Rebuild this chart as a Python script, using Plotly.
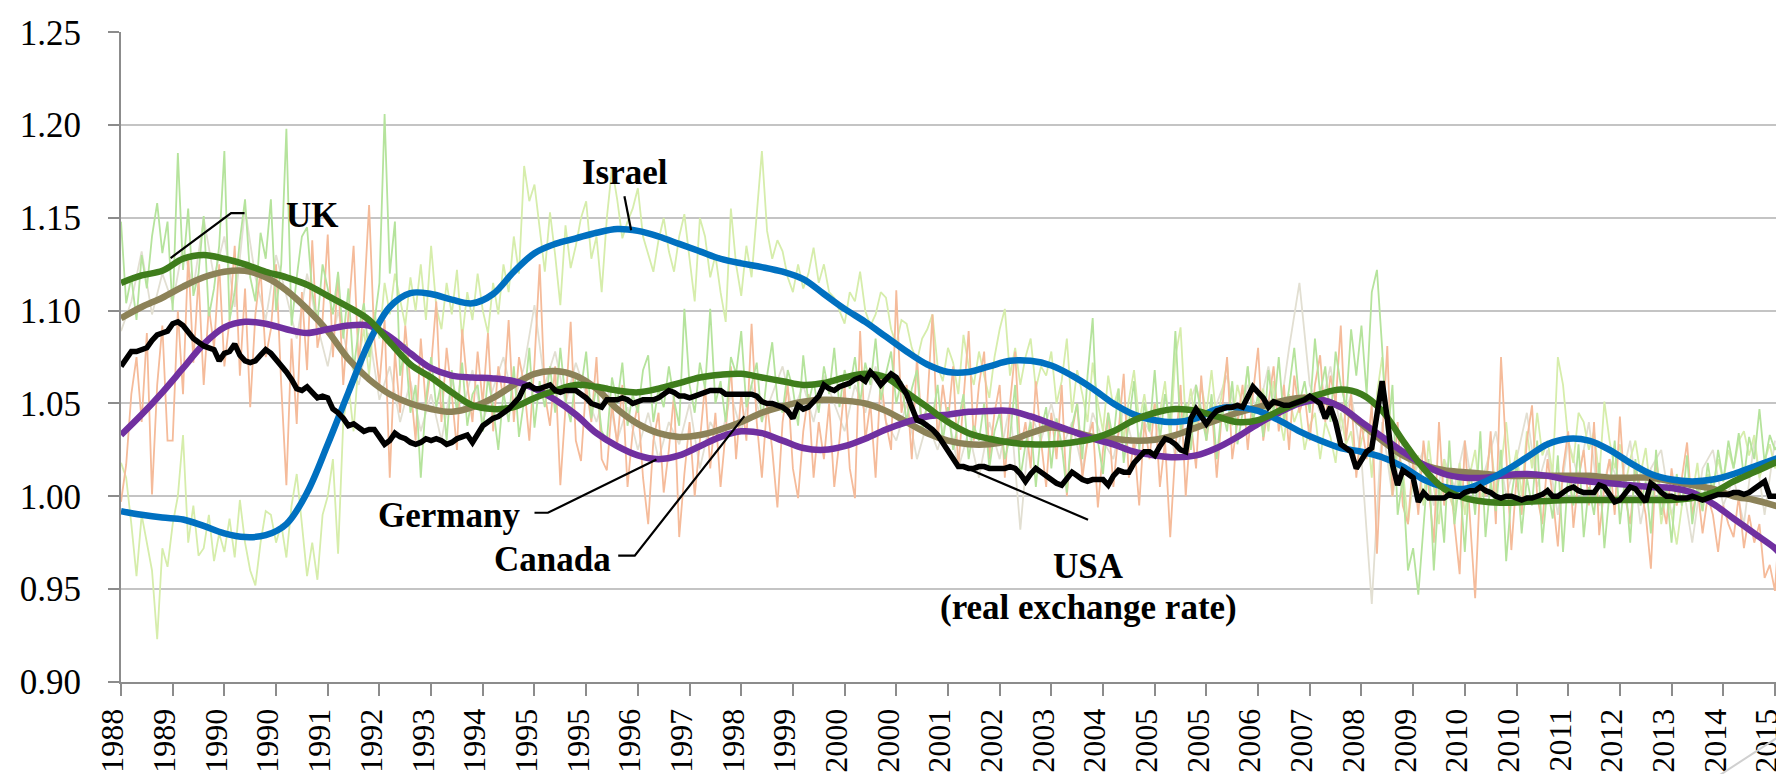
import plotly.graph_objects as go

# ---------------- DATA ----------------
# x axis: monthly index (0 = May 1988); a label every 10 months
tick_idx = list(range(0, 321, 10))
year_labels = ["1988", "1989", "1990", "1990", "1991", "1992", "1993", "1994", "1995", "1995",
               "1996", "1997", "1998", "1999", "2000", "2000", "2001", "2002", "2003", "2004",
               "2005", "2005", "2006", "2007", "2008", "2009", "2010", "2010", "2011", "2012",
               "2013", "2014", "2015"]

# smoothed trends, read every 4 months (last point = month 321)
trend_months = list(range(0, 321, 4)) + [321]

israel_trend = [0.992, 0.990, 0.9885, 0.9875, 0.984, 0.980, 0.978, 0.979, 0.985, 1.002,
                1.028, 1.056, 1.083, 1.102, 1.1095, 1.109, 1.106, 1.104, 1.109, 1.121,
                1.131, 1.136, 1.139, 1.142, 1.144, 1.143, 1.140, 1.136, 1.132, 1.128,
                1.1255, 1.1235, 1.121, 1.117, 1.109, 1.101, 1.094, 1.086, 1.078, 1.071,
                1.067, 1.067, 1.070, 1.073, 1.073, 1.0705, 1.065, 1.058, 1.050, 1.044,
                1.041, 1.040, 1.042, 1.047, 1.048, 1.046, 1.041, 1.035, 1.030, 1.026,
                1.024, 1.021, 1.016, 1.009, 1.005, 1.004, 1.008, 1.014, 1.021, 1.028,
                1.031, 1.030, 1.025, 1.018, 1.012, 1.009, 1.008, 1.009, 1.012, 1.016,
                1.020, 1.021]

uk_trend = [1.115, 1.119, 1.1215, 1.128, 1.130, 1.128, 1.125, 1.121, 1.118, 1.114,
            1.108, 1.102, 1.095, 1.083, 1.071, 1.064, 1.056, 1.049, 1.047, 1.048,
            1.053, 1.057, 1.060, 1.059, 1.057, 1.056, 1.058, 1.061, 1.064, 1.0655,
            1.066, 1.064, 1.062, 1.060, 1.061, 1.064, 1.066, 1.064, 1.056, 1.048,
            1.040, 1.034, 1.031, 1.029, 1.028, 1.028, 1.029, 1.031, 1.035, 1.041,
            1.045, 1.047, 1.046, 1.043, 1.040, 1.041, 1.046, 1.051, 1.055, 1.0575,
            1.055, 1.046, 1.030, 1.015, 1.004, 0.999, 0.997, 0.9965, 0.997, 0.9975,
            0.998, 0.998, 0.998, 0.998, 0.998, 0.998, 0.999, 1.002, 1.008, 1.013,
            1.018, 1.019]

canada_trend = [1.096, 1.102, 1.107, 1.113, 1.118, 1.121, 1.1215, 1.118, 1.111, 1.101,
                1.089, 1.074, 1.063, 1.055, 1.050, 1.047, 1.0455, 1.048, 1.053, 1.060,
                1.066, 1.0675, 1.065, 1.058, 1.047, 1.039, 1.034, 1.032, 1.033, 1.036,
                1.040, 1.045, 1.0485, 1.051, 1.052, 1.0515, 1.050, 1.046, 1.040, 1.034,
                1.030, 1.028, 1.028, 1.030, 1.034, 1.037, 1.035, 1.032, 1.031, 1.030,
                1.0305, 1.033, 1.037, 1.041, 1.045, 1.048, 1.051, 1.053, 1.052, 1.048,
                1.039, 1.030, 1.022, 1.017, 1.014, 1.013, 1.012, 1.011, 1.011, 1.011,
                1.011, 1.011, 1.010, 1.010, 1.010, 1.008, 1.006, 1.004, 1.000, 0.998,
                0.995, 0.994]

germany_trend = [1.033, 1.044, 1.056, 1.069, 1.082, 1.091, 1.094, 1.093, 1.090, 1.088,
                 1.090, 1.092, 1.092, 1.086, 1.077, 1.069, 1.065, 1.064, 1.0635, 1.062,
                 1.058, 1.052, 1.044, 1.034, 1.027, 1.022, 1.020, 1.022, 1.027, 1.032,
                 1.035, 1.034, 1.030, 1.026, 1.025, 1.027, 1.031, 1.036, 1.040, 1.043,
                 1.044, 1.0455, 1.046, 1.046, 1.043, 1.039, 1.035, 1.031, 1.028, 1.024,
                 1.022, 1.021, 1.022, 1.026, 1.032, 1.039, 1.045, 1.050, 1.052, 1.048,
                 1.040, 1.032, 1.024, 1.017, 1.012, 1.010, 1.010, 1.0115, 1.012, 1.011,
                 1.009, 1.008, 1.007, 1.006, 1.005, 1.0045, 1.002, 0.996, 0.988, 0.980,
                 0.972, 0.969]

# USA real exchange rate, monthly (months 0..321)
usa_rer = [1.070, 1.074, 1.078, 1.078, 1.079, 1.080, 1.084, 1.087, 1.088, 1.089,
           1.093, 1.094, 1.092, 1.088, 1.085, 1.083, 1.081, 1.080, 1.079, 1.073,
           1.077, 1.078, 1.082, 1.076, 1.073, 1.072, 1.073, 1.076, 1.079, 1.077,
           1.074, 1.070, 1.067, 1.063, 1.058, 1.057, 1.059, 1.056, 1.053, 1.054,
           1.053, 1.047, 1.045, 1.042, 1.038, 1.039, 1.037, 1.035, 1.036, 1.036,
           1.032, 1.028, 1.030, 1.034, 1.032, 1.031, 1.029, 1.028, 1.029, 1.031,
           1.030, 1.031, 1.030, 1.028, 1.029, 1.031, 1.032, 1.033, 1.029, 1.033,
           1.038, 1.040, 1.042, 1.043, 1.045, 1.047, 1.050, 1.053, 1.059, 1.060,
           1.058, 1.058, 1.059, 1.060, 1.057, 1.056, 1.057, 1.057, 1.057, 1.055,
           1.053, 1.050, 1.049, 1.048, 1.052, 1.052, 1.052, 1.053, 1.052, 1.050,
           1.051, 1.052, 1.052, 1.052, 1.053, 1.055, 1.057, 1.056, 1.054, 1.054,
           1.053, 1.054, 1.055, 1.056, 1.057, 1.057, 1.057, 1.055, 1.055, 1.055,
           1.055, 1.055, 1.055, 1.054, 1.051, 1.050, 1.050, 1.049, 1.048, 1.046,
           1.042, 1.049, 1.047, 1.048, 1.051, 1.054, 1.060, 1.058, 1.057, 1.059,
           1.060, 1.061, 1.063, 1.064, 1.062, 1.067, 1.064, 1.060, 1.063, 1.066,
           1.064, 1.060, 1.055, 1.048, 1.041, 1.040, 1.038, 1.036, 1.033, 1.029,
           1.024, 1.020, 1.016, 1.016, 1.015, 1.015, 1.016, 1.016, 1.015, 1.015,
           1.015, 1.015, 1.016, 1.015, 1.012, 1.008, 1.012, 1.015, 1.013, 1.011,
           1.009, 1.007, 1.006, 1.010, 1.013, 1.011, 1.009, 1.008, 1.009, 1.009,
           1.009, 1.006, 1.011, 1.014, 1.013, 1.013, 1.018, 1.021, 1.024, 1.024,
           1.022, 1.027, 1.031, 1.030, 1.028, 1.025, 1.024, 1.042, 1.047, 1.043,
           1.039, 1.043, 1.046, 1.047, 1.048, 1.048, 1.049, 1.048, 1.053, 1.059,
           1.056, 1.053, 1.048, 1.051, 1.050, 1.049, 1.049, 1.050, 1.051, 1.052,
           1.054, 1.052, 1.050, 1.042, 1.048, 1.040, 1.028, 1.026, 1.024, 1.015,
           1.020, 1.024, 1.026, 1.042, 1.062, 1.042, 1.017, 1.006, 1.014, 1.012,
           1.010, 0.997, 1.002, 0.999, 0.999, 0.999, 0.999, 1.001, 1.000, 1.000,
           1.002, 1.003, 1.003, 1.005, 1.003, 1.002, 1.000, 0.999, 1.000, 1.000,
           0.999, 0.998, 0.999, 0.999, 1.000, 1.001, 1.003, 1.000, 1.000, 1.002,
           1.004, 1.005, 1.003, 1.002, 1.002, 1.002, 1.006, 1.005, 1.001, 0.997,
           0.998, 1.002, 1.005, 1.004, 1.001, 0.997, 1.007, 1.005, 1.002, 1.000,
           1.000, 0.999, 0.999, 0.999, 1.000, 0.999, 0.998, 0.999, 1.000, 1.001,
           1.001, 1.001, 1.002, 1.002, 1.001, 1.002, 1.004, 1.006, 1.008, 1.000,
           1.000, 1.000]

# thin monthly series (months 0..321)
uk_raw = [1.148, 1.104, 1.118, 1.095, 1.130, 1.112, 1.140, 1.158, 1.131, 1.148,
          1.100, 1.185, 1.122, 1.155, 1.108, 1.120, 1.151, 1.097, 1.112, 1.135,
          1.186, 1.095, 1.110, 1.138, 1.160, 1.118, 1.105, 1.142, 1.128, 1.160,
          1.100, 1.125, 1.198, 1.092, 1.118, 1.140, 1.145, 1.110, 1.094, 1.125,
          1.112, 1.098, 1.121, 1.085, 1.112, 1.068, 1.090, 1.104, 1.075, 1.093,
          1.115, 1.206, 1.120, 1.148, 1.065, 1.082, 1.045, 1.060, 1.010, 1.052,
          1.075, 1.048, 1.062, 1.030, 1.068, 1.045, 1.072, 1.038, 1.055, 1.060,
          1.035, 1.064, 1.048, 1.025, 1.056, 1.040, 1.070, 1.032, 1.052, 1.080,
          1.037, 1.062, 1.048, 1.070, 1.045, 1.080, 1.052, 1.040, 1.066, 1.058,
          1.078, 1.042, 1.060, 1.035, 1.030, 1.064, 1.050, 1.072, 1.038, 1.055,
          1.045, 1.068, 1.076, 1.040, 1.058, 1.048, 1.070, 1.052, 1.038, 1.101,
          1.060, 1.045, 1.072, 1.058, 1.101, 1.050, 1.062, 1.040, 1.075, 1.066,
          1.089, 1.048, 1.060, 1.072, 1.040, 1.065, 1.083, 1.052, 1.045, 1.068,
          1.058, 1.038, 1.076, 1.050, 1.062, 1.045, 1.070, 1.055, 1.080, 1.048,
          1.068, 1.058, 1.075, 1.050, 1.072, 1.060, 1.085, 1.052, 1.066, 1.078,
          1.050, 1.062, 1.040, 1.058, 1.068, 1.035, 1.050, 1.042, 1.060, 1.030,
          1.048, 1.025, 1.040, 1.055, 1.020, 1.038, 1.030, 1.050, 1.015, 1.035,
          1.045, 1.020, 1.032, 1.060, 1.010, 1.028, 1.040, 1.005, 1.035, 1.048,
          1.015, 1.042, 1.028, 1.002, 1.038, 1.050, 1.020, 1.065, 1.096, 1.030,
          1.012, 1.045, 1.030, 1.058, 1.018, 1.040, 1.062, 1.025, 1.050, 1.035,
          1.068, 1.030, 1.055, 1.040, 1.089, 1.035, 1.050, 1.025, 1.060, 1.045,
          1.030, 1.055, 1.020, 1.048, 1.035, 1.062, 1.028, 1.045, 1.070, 1.040,
          1.055, 1.032, 1.068, 1.045, 1.075, 1.040, 1.058, 1.080, 1.050, 1.062,
          1.045, 1.085, 1.055, 1.070, 1.040, 1.078, 1.060, 1.048, 1.090, 1.065,
          1.092, 1.055, 1.110, 1.122, 1.080, 1.030, 1.060, 0.990, 1.010, 0.960,
          0.972, 0.947, 0.985, 1.020, 0.960, 1.005, 0.975, 1.030, 0.985, 1.010,
          0.970, 1.015, 0.990, 1.035, 0.978, 1.008, 0.992, 1.025, 0.965, 1.000,
          1.018, 0.980, 1.010, 0.995, 1.030, 0.975, 1.005, 0.988, 1.022, 0.970,
          1.012, 0.995, 1.028, 0.978, 1.005, 0.990, 1.018, 0.972, 1.002, 1.030,
          0.985, 1.010, 0.975, 1.020, 0.995, 1.008, 0.980, 1.025, 0.990, 1.004,
          0.975, 1.012, 0.995, 1.022, 0.985, 1.006, 0.992, 1.018, 1.000, 1.025,
          1.008, 1.030, 1.015, 1.034, 1.010, 1.032, 1.020, 1.047, 1.018, 1.033,
          1.025, 1.030]

israel_raw = [1.018, 1.010, 0.985, 0.957, 0.990, 0.976, 0.960, 0.923, 0.972, 0.962,
              0.985, 1.000, 1.033, 0.975, 0.995, 0.968, 0.972, 0.990, 0.965, 0.980,
              0.970, 0.988, 0.967, 0.998, 0.975, 0.960, 0.952, 0.975, 0.992, 0.990,
              0.975, 0.985, 0.967, 0.995, 1.012, 0.985, 0.957, 0.975, 0.955, 0.990,
              1.000, 1.020, 0.969, 1.040, 1.060, 1.035, 1.075, 1.090, 1.065, 1.100,
              1.085, 1.115, 1.098, 1.120, 1.105, 1.092, 1.118, 1.100, 1.125, 1.095,
              1.135, 1.102, 1.090, 1.115, 1.098, 1.122, 1.085, 1.110, 1.095, 1.120,
              1.100, 1.088, 1.115, 1.098, 1.125, 1.110, 1.140, 1.120, 1.178, 1.159,
              1.168, 1.145, 1.121, 1.153, 1.130, 1.103, 1.146, 1.123, 1.135, 1.150,
              1.159, 1.128, 1.140, 1.110, 1.150, 1.177, 1.160, 1.139, 1.148, 1.155,
              1.166, 1.140, 1.130, 1.121, 1.138, 1.150, 1.132, 1.121, 1.140, 1.152,
              1.128, 1.105, 1.150, 1.140, 1.118, 1.130, 1.110, 1.094, 1.155, 1.125,
              1.108, 1.135, 1.118, 1.150, 1.186, 1.143, 1.128, 1.138, 1.132, 1.118,
              1.110, 1.125, 1.112, 1.120, 1.134, 1.115, 1.125, 1.110, 1.107, 1.100,
              1.093, 1.110, 1.105, 1.121, 1.100, 1.092, 1.098, 1.110, 1.107, 1.090,
              1.082, 1.095, 1.093, 1.080, 1.073, 1.085, 1.090, 1.098, 1.070, 1.062,
              1.080, 1.072, 1.055, 1.087, 1.070, 1.060, 1.078, 1.065, 1.053, 1.075,
              1.090, 1.101, 1.065, 1.080, 1.060, 1.075, 1.085, 1.058, 1.070, 1.065,
              1.078, 1.050, 1.062, 1.085, 1.045, 1.068, 1.055, 1.040, 1.072, 1.050,
              1.035, 1.065, 1.048, 1.058, 1.030, 1.052, 1.068, 1.040, 1.055, 1.035,
              1.050, 1.045, 1.062, 1.030, 1.075, 1.091, 1.040, 1.058, 1.035, 1.060,
              1.045, 1.068, 1.040, 1.055, 1.072, 1.038, 1.060, 1.048, 1.070, 1.042,
              1.050, 1.058, 1.035, 1.062, 1.045, 1.030, 1.055, 1.040, 1.048, 1.025,
              1.038, 1.045, 1.020, 1.040, 1.032, 1.018, 1.045, 1.028, 1.035, 1.015,
              1.030, 1.040, 1.010, 1.055, 1.075, 1.035, 1.000, 1.025, 1.015, 0.985,
              1.010, 1.022, 0.995, 1.030, 1.005, 0.985, 1.020, 1.000, 0.992, 1.018,
              0.990, 1.012, 1.025, 0.998, 1.008, 1.030, 1.002, 1.015, 1.040, 1.010,
              1.025, 1.000, 1.035, 1.015, 1.045, 1.022, 1.030, 1.012, 1.075, 1.060,
              1.030, 1.018, 1.045, 1.040, 1.025, 1.035, 1.010, 1.051, 1.030, 1.015,
              1.028, 1.005, 1.020, 1.030, 1.012, 1.026, 1.000, 1.015, 0.985, 1.002,
              0.990, 0.974, 0.995, 1.010, 1.000, 1.018, 0.992, 1.012, 1.005, 1.020,
              1.008, 1.025, 1.015, 1.030, 1.035, 1.022, 1.033, 1.010, 1.019, 1.028,
              1.015, 1.025]

salmon_raw = [0.997, 1.017, 1.055, 1.075, 1.040, 1.088, 1.001, 1.060, 1.092, 1.030,
              1.030, 1.100, 1.055, 1.130, 1.072, 1.118, 1.060, 1.102, 1.080, 1.125,
              1.070, 1.095, 1.135, 1.065, 1.112, 1.048, 1.098, 1.122, 1.075, 1.090,
              1.125, 1.060, 1.006, 1.085, 1.039, 1.110, 1.068, 1.138, 1.080, 1.095,
              1.141, 1.075, 1.120, 1.060, 1.098, 1.135, 1.070, 1.105, 1.157, 1.085,
              1.060, 1.095, 1.010, 1.078, 1.045, 1.092, 1.060, 1.030, 1.085, 1.048,
              1.070, 1.105, 1.040, 1.080, 1.055, 1.025, 1.090, 1.060, 1.040, 1.078,
              1.050, 1.088, 1.035, 1.070, 1.052, 1.095, 1.040, 1.075, 1.060, 1.030,
              1.072, 1.125, 1.055, 1.038, 1.070, 1.006, 1.048, 1.094, 1.030, 1.019,
              1.060, 1.040, 1.075, 1.020, 1.014, 1.050, 1.028, 1.060, 1.005, 1.035,
              1.050, 1.010, 0.985, 1.030, 1.045, 1.002, 1.025, 1.055, 0.978, 1.012,
              1.040, 1.000, 1.030, 1.060, 1.015, 1.045, 1.005, 1.035, 1.070, 1.020,
              1.055, 1.030, 1.093, 1.040, 1.010, 1.050, 1.025, 0.994, 1.040, 1.060,
              1.015, 0.999, 1.035, 1.055, 1.010, 1.040, 1.020, 1.050, 1.005, 1.030,
              1.060, 1.015, 0.999, 1.089, 1.030, 1.050, 1.010, 1.065, 1.040, 1.025,
              1.111, 1.045, 1.060, 1.020, 1.075, 1.035, 1.050, 1.098, 1.030, 1.060,
              1.040, 1.070, 1.015, 1.050, 1.089, 1.030, 1.060, 1.078, 1.020, 1.045,
              1.060, 1.010, 1.050, 1.078, 1.025, 1.040, 1.015, 1.062, 1.030, 1.005,
              1.045, 1.020, 1.060, 1.000, 1.035, 1.050, 1.010, 1.030, 1.040, 0.994,
              1.025, 1.045, 1.005, 1.035, 1.066, 1.010, 1.030, 0.995, 1.040, 1.020,
              1.050, 1.005, 1.030, 0.978, 1.025, 1.060, 1.000, 1.040, 1.015, 1.065,
              1.030, 1.050, 1.010, 1.045, 1.075, 1.020, 1.040, 1.060, 1.025, 1.055,
              1.080, 1.030, 1.050, 1.070, 1.035, 1.060, 1.025, 1.065, 1.045, 1.055,
              1.030, 1.060, 1.076, 1.040, 1.065, 1.050, 1.092, 1.030, 1.055, 1.010,
              1.040, 1.020, 1.050, 0.969, 1.030, 1.081, 1.000, 1.040, 0.995, 0.985,
              1.020, 0.990, 1.030, 1.005, 0.975, 1.040, 0.995, 1.015, 0.985, 0.958,
              1.030, 0.990, 0.945, 1.010, 1.000, 1.035, 0.985, 1.075, 1.020, 0.971,
              1.010, 0.990, 1.030, 1.049, 1.000, 0.985, 1.020, 1.000, 0.973, 1.015,
              1.035, 0.983, 1.010, 1.025, 0.995, 1.040, 0.979, 1.005, 1.020, 0.990,
              1.043, 1.000, 0.985, 1.015, 1.005, 0.990, 0.961, 1.020, 1.000, 0.985,
              1.015, 0.995, 1.010, 1.029, 0.990, 1.005, 0.980, 1.000, 0.990, 0.970,
              0.995, 0.985, 0.978, 1.000, 0.972, 0.990, 0.975, 0.985, 0.956, 0.963,
              0.949, 0.992]

# beige series, read every 2 months (months 0, 2, ..., 320)
beige_months = list(range(0, 321, 2))
beige_raw = [1.089, 1.105, 1.132, 1.098, 1.120, 1.104, 1.135, 1.112, 1.150, 1.118,
             1.140, 1.102, 1.155, 1.118, 1.095, 1.130, 1.108, 1.085, 1.120, 1.092,
             1.070, 1.100, 1.075, 1.060, 1.088, 1.052, 1.070, 1.040, 1.062, 1.035,
             1.055, 1.030, 1.062, 1.045, 1.068, 1.040, 1.058, 1.075, 1.050, 1.070,
             1.103, 1.060, 1.078, 1.050, 1.072, 1.055, 1.040, 1.060, 1.030, 1.048,
             1.025, 1.045, 1.020, 1.040, 1.028, 1.050, 1.015, 1.040, 1.030, 1.055,
             1.035, 1.060, 1.040, 1.055, 1.070, 1.045, 1.060, 1.040, 1.065, 1.050,
             1.035, 1.060, 1.045, 1.070, 1.040, 1.030, 1.050, 1.020, 1.040, 1.025,
             1.045, 1.015, 1.035, 1.010, 1.040, 1.020, 1.050, 0.982, 1.045, 1.030,
             1.050, 1.025, 1.040, 1.015, 1.045, 1.030, 1.020, 1.048, 1.025, 1.040,
             1.030, 1.055, 1.020, 1.045, 1.060, 1.035, 1.050, 1.065, 1.040, 1.060,
             1.045, 1.070, 1.040, 1.080, 1.115, 1.060, 1.045, 1.070, 1.035, 1.055,
             1.020, 0.942, 1.040, 1.000, 1.030, 1.010, 1.025, 0.995, 1.020, 1.005,
             1.030, 0.995, 1.015, 1.035, 1.000, 1.020, 1.045, 1.005, 1.025, 0.990,
             1.030, 1.010, 1.040, 0.995, 1.020, 1.005, 1.030, 0.985, 1.015, 1.025,
             0.990, 1.010, 0.975, 1.015, 1.025, 0.995, 1.010, 0.985, 1.030, 0.990,
             1.030]

# ---------------- STYLE ----------------
FONT = "Liberation Serif"
AXIS_GRAY = "#8c8c8c"
GRID_GRAY = "#c4c4c4"

fig = go.Figure()


def months_for(values):
    return list(range(len(values)))


# thin series
fig.add_trace(go.Scatter(x=beige_months, y=beige_raw, mode="lines",
                         line=dict(color="#e2dfd2", width=1.8), hoverinfo="skip"))
fig.add_trace(go.Scatter(x=months_for(israel_raw), y=israel_raw, mode="lines",
                         line=dict(color="#d6edab", width=1.8), hoverinfo="skip"))
fig.add_trace(go.Scatter(x=months_for(salmon_raw), y=salmon_raw, mode="lines",
                         line=dict(color="#f5bb9a", width=1.8), hoverinfo="skip"))
fig.add_trace(go.Scatter(x=months_for(uk_raw), y=uk_raw, mode="lines",
                         line=dict(color="#b5e39c", width=1.8), hoverinfo="skip"))

# smooth trends
fig.add_trace(go.Scatter(x=trend_months, y=canada_trend, mode="lines", name="Canada",
                         line=dict(color="#8c8258", width=6.5, shape="spline")))
fig.add_trace(go.Scatter(x=trend_months, y=germany_trend, mode="lines", name="Germany",
                         line=dict(color="#7030a0", width=6.5, shape="spline")))
fig.add_trace(go.Scatter(x=trend_months, y=israel_trend, mode="lines", name="Israel",
                         line=dict(color="#0070c0", width=6.5, shape="spline")))
fig.add_trace(go.Scatter(x=trend_months, y=uk_trend, mode="lines", name="UK",
                         line=dict(color="#3f7d1c", width=6.5, shape="spline")))
fig.add_trace(go.Scatter(x=months_for(usa_rer), y=usa_rer, mode="lines", name="USA",
                         line=dict(color="black", width=5.5)))

# labels
ann_font = dict(family=FONT, size=35, color="black")
labels = [
    ("<b>UK</b>", 37.1, 1.1515),
    ("<b>Israel</b>", 97.5, 1.1747),
    ("<b>Germany</b>", 63.4, 0.9895),
    ("<b>Canada</b>", 83.4, 0.9660),
    ("<b>USA</b>", 187.1, 0.9620),
    ("<b>(real exchange rate)</b>", 187.1, 0.9400),
]
for text, lx, ly in labels:
    fig.add_annotation(x=lx, y=ly, xref="x", yref="y", text=text, showarrow=False,
                       font=ann_font, xanchor="center", yanchor="middle")

# leader lines
leaders = [
    "M 9.6,1.1284 L 21.3,1.1526 L 23.9,1.1526",
    "M 97.4,1.1617 L 98.7,1.1434",
    "M 80.0,0.9911 L 82.6,0.9911 L 103.6,1.0198",
    "M 96.2,0.9680 L 99.4,0.9680 L 120.6,1.0432",
    "M 163.9,1.0148 L 187.1,0.9874",
]
for p in leaders:
    fig.add_shape(type="path", path=p, xref="x", yref="y",
                  line=dict(color="black", width=2.2))

# faint corner stroke seen in the original
fig.add_shape(type="line", xref="paper", yref="paper", x0=0.9515, y0=-0.152, x1=1.0, y1=-0.0708,
              line=dict(color="#d0d0d0", width=2))

fig.update_layout(
    width=1784, height=774,
    margin=dict(l=113, r=0, t=24, b=100),
    plot_bgcolor="white", paper_bgcolor="white",
    showlegend=False,
    xaxis=dict(range=[0, 323.3], tickmode="array", tickvals=tick_idx, ticktext=year_labels,
               tickangle=-90, ticks="outside", ticklen=12, tickwidth=2, tickcolor=AXIS_GRAY,
               showline=True, linecolor=AXIS_GRAY, linewidth=2, showgrid=False, zeroline=False,
               ticklabelstandoff=0, ticklabelshift=-8, ticklabeloverflow="allow",
               tickfont=dict(family=FONT, size=32, color="black")),
    yaxis=dict(range=[0.8999, 1.2502], tick0=0.9, dtick=0.05, tickformat=".2f",
               ticks="outside", ticklen=11, tickwidth=2, tickcolor=AXIS_GRAY,
               showline=True, linecolor=AXIS_GRAY, linewidth=2,
               showgrid=True, gridcolor=GRID_GRAY, gridwidth=2, zeroline=False,
               ticklabelstandoff=20,
               tickfont=dict(family=FONT, size=35, color="black")),
)

fig.write_html("out.html")
